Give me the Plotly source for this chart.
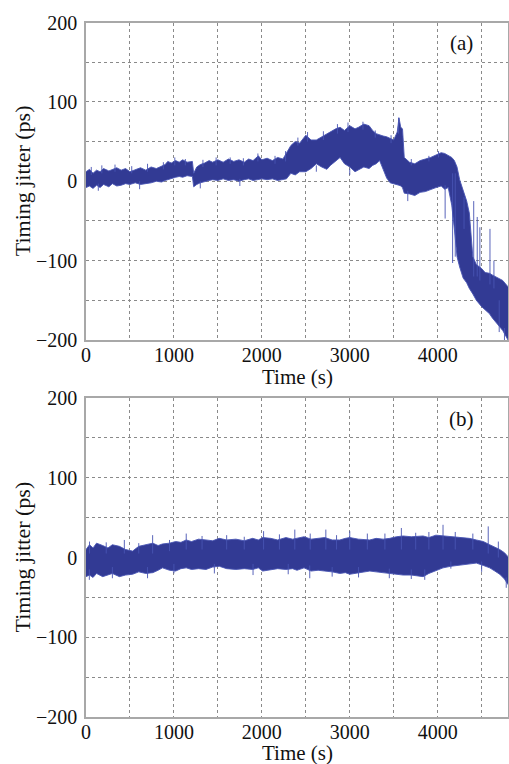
import plotly.graph_objects as go

# ---------------- data ----------------
# Panel (a): envelope of the timing-jitter trace (ps) vs time (s)
a_t = [0, 40, 80, 120, 160, 200, 260, 300, 350, 400, 450, 500, 560, 620, 680, 740, 800, 860, 900, 930,
       970, 1020, 1060, 1100, 1150, 1210, 1225, 1260, 1300, 1350, 1400, 1440, 1500, 1560, 1620, 1680,
       1740, 1800, 1850, 1900, 1960, 2000, 2060, 2120, 2180, 2240, 2280, 2330, 2380, 2430, 2500, 2560,
       2620, 2680, 2740, 2780, 2840, 2890, 2940, 3000, 3060, 3100, 3160, 3220, 3260, 3300, 3340, 3380,
       3420, 3460, 3500, 3540, 3560, 3580, 3600, 3620, 3680, 3740, 3800, 3860, 3920, 3980, 4040, 4080,
       4120, 4160, 4190, 4220, 4250, 4290, 4330, 4360, 4400, 4440, 4500, 4540, 4590, 4620, 4680, 4740, 4800]
a_upper = [12, 15, 10, 14, 12, 16, 13, 15, 17, 14, 16, 12, 15, 17, 14, 18, 16, 19, 21, 25,
           23, 26, 24, 27, 24, 25, 10, 18, 21, 23, 26, 24, 27, 24, 28, 25,
           27, 24, 28, 26, 32, 27, 29, 26, 30, 28, 36, 45, 50, 48, 58, 52,
           52, 56, 60, 62, 66, 68, 64, 70, 66, 68, 72, 70, 64, 60, 58, 57,
           56, 54, 52, 62, 80, 68, 66, 30, 24, 22, 26, 28, 30, 33, 36, 35,
           33, 30, 26, 18, 2, -12, -25, -40, -95, -105, -110, -115, -116, -118, -122, -125, -133]
a_lower = [-8, -6, -9, -5, -8, -4, -7, -3, -6, -5, -3, -4, -2, -4, -3, -2, 0, -1, 1, 2,
           4, 5, 6, 5, 7, 6, -7, -4, -2, 0, 1, 2, 1, 3, 1, 2,
           0, 2, 3, 1, 2, 3, 2, 3, 1, 2, 3, 10, 8, 12, 12, 16,
           22, 18, 15, 20, 25, 30, 22, 18, 12, 14, 18, 16, 20, 22, 26, 15,
           4, -2, -3, -4, -5, -6, -8, -15, -16, -18, -14, -13, -10, -8, -6, -10,
           -8, -30, -60, -95, -108, -122, -128, -135, -142, -150, -158, -162, -167, -172, -180, -188, -200]

# Panel (a): isolated spikes (time, from, to)
a_spk_t = [60, 180, 330, 520, 700, 880, 1010, 1130, 1330, 1480, 1640, 1790, 1955, 2150, 2270,
           2410, 2520, 2700, 2860, 2980, 3150, 3290, 3470,
           3555, 3700, 3900, 4010,
           4085, 4170, 4200, 4300, 4410, 4450, 4480, 4595, 4640, 4700,
           140, 610, 1300, 1750, 2620, 3000, 3660, 4760]
a_spk_from = [8, 10, 12, 10, 12, 15, 20, 20, 18, 20, 22, 20, 25, 22, 25,
              45, 50, 52, 60, 62, 65, 55, 48,
              60, 20, 25, 30,
              -5, 10, 10, -20, -120, -120, -125, -130, -135, -150,
              -3, 0, 0, 3, 20, 16, -12, -185]
a_spk_to = [18, 20, 21, 19, 22, 24, 30, 28, 27, 30, 30, 29, 35, 32, 38,
            55, 62, 63, 72, 74, 75, 64, 58,
            80, 28, 32, 38,
            -47, -103, -95, -60, -25, -45, -58, -60, -100, -190,
            -12, -10, -9, -6, 12, 8, -25, -200]

# Panel (b): envelope of the timing-jitter trace (ps) vs time (s)
b_t = [0, 40, 80, 120, 190, 250, 300, 380, 450, 530, 600, 680, 760, 820, 870, 950, 1020, 1080, 1140,
       1200, 1280, 1365, 1440, 1516, 1600, 1705, 1800, 1895, 1960, 2010, 2100, 2180, 2274, 2350, 2400,
       2480, 2560, 2640, 2716, 2800, 2887, 2950, 3000, 3100, 3228, 3300, 3380, 3455, 3530, 3607, 3700,
       3834, 3900, 3980, 4061, 4150, 4289, 4360, 4440, 4520, 4592, 4650, 4706, 4760, 4800]
b_upper = [10, 16, 12, 18, 15, 12, 16, 14, 10, 8, 14, 16, 18, 15, 17, 18, 20, 19, 22,
           20, 23, 22, 21, 24, 22, 23, 21, 24, 22, 25, 24, 22, 25, 23, 24,
           26, 23, 24, 25, 22, 22, 24, 25, 23, 22, 24, 23, 24, 26, 27, 26,
           27, 25, 28, 27, 26, 25, 24, 22, 20, 16, 13, 10, 6, 1]
b_lower = [-24, -22, -25, -20, -24, -22, -20, -24, -22, -21, -18, -20, -19, -16, -13, -16, -17, -14, -13,
           -15, -14, -15, -12, -11, -14, -15, -14, -15, -13, -17, -15, -14, -15, -14, -16,
           -13, -17, -16, -17, -18, -20, -19, -21, -19, -17, -18, -19, -20, -21, -22, -22,
           -24, -20, -17, -13, -11, -9, -8, -7, -10, -13, -17, -21, -27, -34]

# Panel (b): isolated spikes (time, from, to)
b_spk_t = [40, 230, 436, 600, 758, 950, 1140, 1320, 1600, 1800, 2020, 2200, 2375, 2550, 2728,
           2850, 3000, 3200, 3400, 3587, 3750, 3900, 4061, 4200, 4400, 4575, 4690,
           38, 300, 700, 1000, 1460, 1900, 2300, 2545, 2800, 3100, 3450, 3700, 3853, 4150, 4500, 4780]
b_spk_from = [5, 5, 5, 5, 5, 8, 10, 10, 10, 10, 10, 10, 10, 10, 10,
              10, 10, 10, 10, 10, 10, 10, 10, 10, 10, 5, 0,
              -15, -12, -12, -8, -8, -8, -8, -10, -12, -12, -14, -15, -15, -5, -5, -25]
b_spk_to = [20, 19, 22, 18, 28, 22, 30, 27, 28, 26, 33, 29, 35, 30, 35,
            28, 33, 30, 30, 37, 31, 32, 41, 32, 30, 39, 20,
            -28, -26, -26, -20, -20, -22, -21, -26, -24, -25, -26, -27, -28, -14, -18, -38]

x_tickvals = [0, 500, 1000, 1500, 2000, 2500, 3000, 3500, 4000, 4500]
x_ticktext = ["0", "", "1000", "", "2000", "", "3000", "", "4000", ""]
y_tickvals = [-200, -150, -100, -50, 0, 50, 100, 150, 200]
y_ticktext = ["\u2212200", "", "\u2212100", "", "0", "", "100", "", "200"]

panel_labels = ["(a)", "(b)"]
x_title = "Time (s)"
y_title = "Timing jitter (ps)"

# ---------------- styling ----------------
FILL = "rgb(50,58,148)"
EDGE = "rgba(72,84,178,0.9)"
FONT = "Liberation Serif"


def spikes(ts, lo, hi):
    xs, ys = [], []
    for t, a, b in zip(ts, lo, hi):
        xs += [t, t, None]
        ys += [a, b, None]
    return xs, ys


fig = go.Figure()

for t, up, lo, st, sf, sto, xa, ya in [
    (a_t, a_upper, a_lower, a_spk_t, a_spk_from, a_spk_to, "x", "y"),
    (b_t, b_upper, b_lower, b_spk_t, b_spk_from, b_spk_to, "x2", "y2"),
]:
    fig.add_trace(go.Scatter(x=t, y=up, mode="lines", line=dict(color=EDGE, width=1),
                             xaxis=xa, yaxis=ya, showlegend=False, hoverinfo="skip"))
    fig.add_trace(go.Scatter(x=t, y=lo, mode="lines", line=dict(color=EDGE, width=1),
                             fill="tonexty", fillcolor=FILL,
                             xaxis=xa, yaxis=ya, showlegend=False, hoverinfo="skip"))
    sx, sy = spikes(st, sf, sto)
    fig.add_trace(go.Scatter(x=sx, y=sy, mode="lines", line=dict(color=EDGE, width=1),
                             xaxis=xa, yaxis=ya, showlegend=False, hoverinfo="skip"))

W, H = 509, 764
ML, MR, MT, MB = 86, 1, 22, 47
ph = H - MT - MB


def py(pix):
    return 1 - (pix - MT) / ph


def px(pix):
    return (pix - ML) / (W - ML - MR)


axis_common = dict(
    showline=True, mirror=True, linecolor="#a8a8a8", linewidth=1.5,
    showgrid=True, gridcolor="#8a8a8a", griddash="dot", gridwidth=1,
    zeroline=False, ticks="", automargin=False,
    tickfont=dict(family=FONT, size=20, color="#111"),
)

fig.update_layout(
    width=W, height=H,
    margin=dict(l=ML, r=MR, t=MT, b=MB, autoexpand=False),
    paper_bgcolor="white", plot_bgcolor="white",
    xaxis=dict(domain=[0, 1], anchor="y", range=[0, 4800], tickvals=x_tickvals, ticktext=x_ticktext,
               ticklabelstandoff=-4, **axis_common),
    yaxis=dict(domain=[py(340), py(22.5)], anchor="x", range=[-200, 200], tickvals=y_tickvals,
               ticktext=y_ticktext, ticklabelstandoff=3, **axis_common),
    xaxis2=dict(domain=[0, 1], anchor="y2", range=[0, 4800], tickvals=x_tickvals, ticktext=x_ticktext,
                ticklabelstandoff=-4, **axis_common),
    yaxis2=dict(domain=[0, py(398)], anchor="x2", range=[-200, 200], tickvals=y_tickvals,
                ticktext=y_ticktext, ticklabelstandoff=3, **axis_common),
)

ann = []
for lab, xr, yr in zip(panel_labels, ["x", "x2"], ["y", "y2"]):
    ann.append(dict(text=lab, x=4273, y=174, xref=xr, yref=yr, showarrow=False,
                    font=dict(family=FONT, size=21, color="#111")))
for yc_title, yc_axis in [(377, (22.5 + 340) / 2), (753, (398 + 717) / 2)]:
    ann.append(dict(text=x_title, x=0.5, y=py(yc_title), xref="paper", yref="paper", showarrow=False,
                    xanchor="center", yanchor="middle", font=dict(family=FONT, size=21, color="#111")))
    ann.append(dict(text=y_title, x=px(22), y=py(yc_axis), xref="paper", yref="paper", showarrow=False,
                    textangle=-90, xanchor="center", yanchor="middle",
                    font=dict(family=FONT, size=22, color="#111")))
fig.update_layout(annotations=ann)

fig.write_html("out.html", config={"displayModeBar": False},
               post_script="document.body.style.margin='0';document.body.style.padding='0';")
